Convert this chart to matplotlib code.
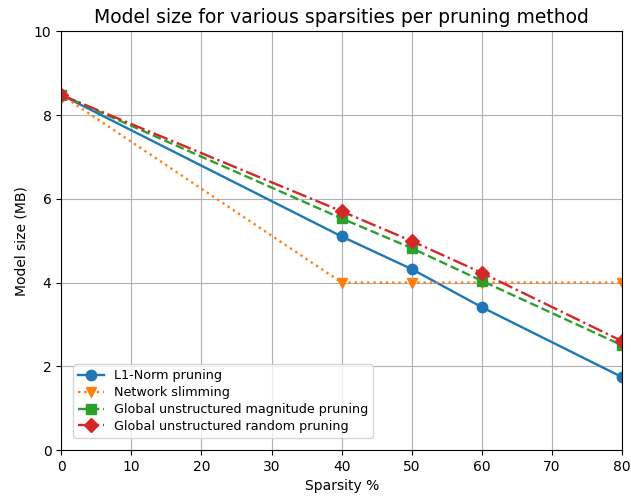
import matplotlib
matplotlib.use("Agg")
import matplotlib.pyplot as plt

sparsity = [0, 40, 50, 60, 80]
l1_norm = [8.48, 5.1, 4.32, 3.41, 1.74]
net_slim = [8.48, 4.0, 4.0, 4.0, 4.0]
glob_mag = [8.48, 5.53, 4.82, 4.04, 2.5]
glob_rand = [8.48, 5.7, 4.99, 4.23, 2.6]

fig, ax = plt.subplots(figsize=(6.31, 5.04), dpi=100)
ax.plot(sparsity, l1_norm, "-o", label="L1-Norm pruning", markersize=7.5, linewidth=1.7)
ax.plot(sparsity, net_slim, ":v", label="Network slimming", markersize=7.5, linewidth=1.7)
ax.plot(sparsity, glob_mag, "--s", label="Global unstructured magnitude pruning", markersize=7.5, linewidth=1.7)
ax.plot(sparsity, glob_rand, "-.D", label="Global unstructured random pruning", markersize=7.5, linewidth=1.7)

ax.set_xlim(0, 80)
ax.set_ylim(0, 10)
ax.set_xlabel("Sparsity %")
ax.set_ylabel("Model size (MB)")
ax.set_title("Model size for various sparsities per pruning method", fontsize=13.5)
ax.grid(True)
ax.legend(loc="lower left", fontsize=9.2, labelspacing=0.3, borderaxespad=0,
          bbox_to_anchor=(0.021, 0.029))

fig.subplots_adjust(left=0.097, right=0.986, top=0.938, bottom=0.107)
fig.savefig("out.png")
